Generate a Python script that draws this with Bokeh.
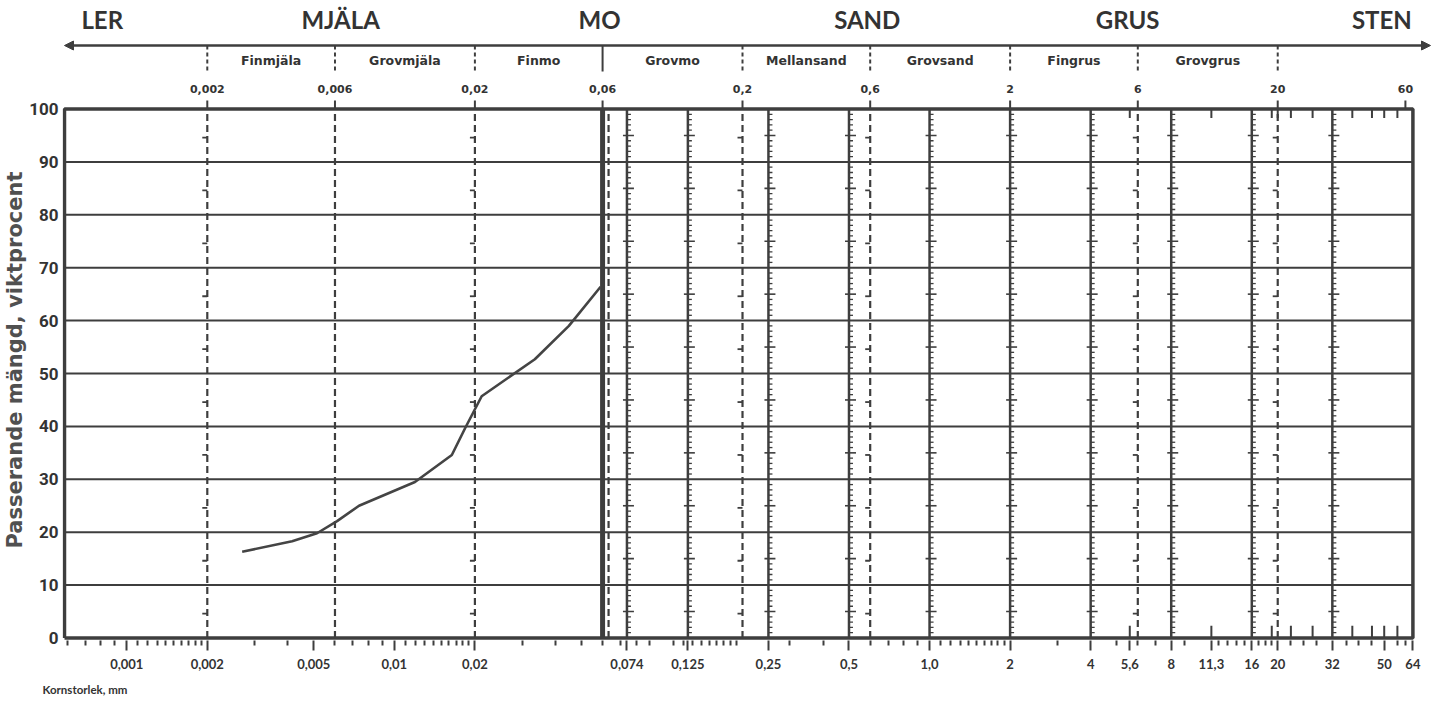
import numpy as np
from bokeh.plotting import figure
from bokeh.models import Range1d, FixedTicker, Arrow, NormalHead, CustomJSTickFormatter, Title
from bokeh.embed import file_html
from bokeh.resources import INLINE
from bokeh.core.properties import value

# ---------------- data ----------------
curve_d = [0.0027, 0.00415, 0.00514, 0.00611, 0.00738, 0.01194, 0.0164, 0.0184, 0.0212, 0.0335, 0.0449, 0.0590]
curve_p = [16.3, 18.3, 19.8, 22.1, 25.0, 29.5, 34.6, 39.7, 45.7, 52.7, 59.0, 66.4]

main_classes = ["LER", "MJÄLA", "MO", "SAND", "GRUS", "STEN"]
main_class_x = [0.00081, 0.0063, 0.0585, 0.585, 5.5, 49.0]

sub_classes = ["Finmjäla", "Grovmjäla", "Finmo", "Grovmo", "Mellansand", "Grovsand", "Fingrus", "Grovgrus"]
boundaries = [0.002, 0.006, 0.02, 0.06, 0.2, 0.6, 2, 6, 20]

top_tick_vals = [0.002, 0.006, 0.02, 0.06, 0.2, 0.6, 2, 6, 20, 60]
top_tick_labels = ["0,002", "0,006", "0,02", "0,06", "0,2", "0,6", "2", "6", "20", "60"]

bottom_ticks = [0.001, 0.002, 0.005, 0.01, 0.02, 0.074, 0.125, 0.25, 0.5, 1.0, 2, 4, 5.6, 8, 11.3, 16, 20, 32, 50, 64]
bottom_labels = ["0,001", "0,002", "0,005", "0,01", "0,02", "0,074", "0,125", "0,25", "0,5", "1,0",
                 "2", "4", "5,6", "8", "11,3", "16", "20", "32", "50", "64"]
bottom_minor = [0.0006, 0.0007, 0.0008, 0.0009,
                0.0011, 0.0012, 0.0013, 0.0014, 0.0015, 0.0016, 0.0017, 0.0018, 0.0019,
                0.003, 0.004, 0.006, 0.007, 0.008, 0.009,
                0.011, 0.012, 0.013, 0.014, 0.015, 0.016, 0.017, 0.018, 0.019,
                0.03, 0.04, 0.05, 0.06, 0.07, 0.08, 0.09,
                0.11, 0.12, 0.13, 0.14, 0.15, 0.16, 0.17, 0.18, 0.19,
                0.3, 0.4, 0.6, 0.7, 0.8, 0.9,
                1.1, 1.2, 1.3, 1.4, 1.5, 1.6, 1.7, 1.8, 1.9,
                3, 5, 6, 7, 9, 12, 13, 14, 15, 17, 18, 19,
                22.4, 25, 28, 36, 40, 45, 56, 60]

sieves = [0.074, 0.125, 0.25, 0.5, 1.0, 2, 4, 8, 16, 32]
dashed_bounds = [0.002, 0.006, 0.02, 0.06, 0.2, 0.6, 6, 20]
marked_bounds = [0.002, 0.02, 0.2, 0.6, 6, 20]
edge_ticks_top = [5.6, 11.3, 19, 20, 22.4, 27, 38, 45, 50, 56]
edge_ticks_bottom = [5.6, 11.3, 19, 22.4, 27, 38, 45, 50, 56]
percent_ticks = list(range(0, 101, 10))
grid_levels = list(range(10, 100, 10))

# ---------------- styling helpers (image pixel geometry) ----------------
PX_DEC = 268.0          # pixels per decade on the grain-size axis
REF_X, REF_PX = 0.002, 205.0
PX_PCT = 5.29           # pixels per percent
Y0_PX = 637.5           # image row of 0 %
W, H = 1432, 706
FRAME_L, FRAME_B = 60, 640
LINE = "#3e3e3e"
TEXT = "#333333"


def at_px(px):
    return REF_X * 10 ** ((px - REF_PX) / PX_DEC)


def at_py(py):
    return (Y0_PX - py) / PX_PCT


def shift(x, px):
    return np.asarray(x, dtype=float) * 10 ** (px / PX_DEC)


x_border = at_px(62)
x_right_edge = 64.0

p = figure(width=W, height=H, x_axis_type="log",
           x_range=Range1d(at_px(FRAME_L), at_px(W)), y_range=Range1d(at_py(FRAME_B), at_py(0)),
           output_backend="svg", toolbar_location=None,
           min_border_left=FRAME_L, min_border_right=0, min_border_top=0, min_border_bottom=H - FRAME_B)
p.grid.visible = False
p.outline_line_color = None

# ---------------- axes ----------------
p.yaxis.ticker = FixedTicker(ticks=percent_ticks)
p.yaxis.axis_line_color = None
p.yaxis.major_tick_line_color = None
p.yaxis.minor_tick_line_color = None
p.yaxis.major_tick_out = 0
p.yaxis.minor_tick_out = 0
p.yaxis.major_label_text_font = "Roboto"
p.yaxis.major_label_text_font_style = "bold"
p.yaxis.major_label_text_font_size = "17px"
p.yaxis.major_label_text_color = TEXT
p.yaxis.major_label_standoff = 4

p.xaxis.ticker = FixedTicker(ticks=bottom_ticks, minor_ticks=bottom_minor)
p.xaxis.formatter = CustomJSTickFormatter(args=dict(t=bottom_ticks, l=bottom_labels), code="""
for (let i = 0; i < t.length; i++) {
  if (Math.abs(Math.log(tick / t[i])) < 1e-6) { return l[i]; }
}
return "";
""")
p.xaxis.axis_line_color = None
p.xaxis.major_tick_out = 10
p.xaxis.major_tick_in = 0
p.xaxis.minor_tick_out = 5
p.xaxis.minor_tick_in = 0
p.xaxis.major_tick_line_width = 2
p.xaxis.minor_tick_line_width = 2
p.xaxis.major_tick_line_color = LINE
p.xaxis.minor_tick_line_color = LINE
p.xaxis.major_label_text_font = "Lato"
p.xaxis.major_label_text_font_style = "bold"
p.xaxis.major_label_text_font_size = "13px"
p.xaxis.major_label_text_color = TEXT
p.xaxis.major_label_standoff = 8

# y title: starts near the frame bottom and reads upward
p.add_layout(Title(text="Passerande mängd, viktprocent", align="left", offset=FRAME_B - 548, standoff=0,
                   text_font="DejaVu Sans", text_font_style="bold", text_font_size="21px",
                   text_color="#505050"), "left")
p.add_layout(Title(text="Kornstorlek, mm", align="left", offset=-20, standoff=18,
                   text_font="Lato", text_font_style="bold", text_font_size="11.5px",
                   text_color=TEXT), "below")

# ---------------- header (class names) ----------------
p.text(x=main_class_x, y=[at_py(19)] * len(main_classes), text=main_classes,
       text_font=value("Lato"), text_font_style="bold", text_font_size="24px",
       text_align="center", text_baseline="middle", text_color=TEXT)

b = np.array(boundaries, dtype=float)
sub_x = np.sqrt(b[:-1] * b[1:])
p.text(x=sub_x, y=[at_py(60)] * len(sub_classes), text=sub_classes,
       text_font=value("DejaVu Sans"), text_font_style="bold", text_font_size="12.5px",
       text_align="center", text_baseline="middle", text_color=TEXT)

p.add_layout(Arrow(start=NormalHead(size=9, line_color=LINE, fill_color=LINE),
                   end=NormalHead(size=9, line_color=LINE, fill_color=LINE),
                   x_start=at_px(62), y_start=at_py(45), x_end=at_px(1430), y_end=at_py(45),
                   line_width=2.5, line_color=LINE))

dash_div = [v for v in boundaries if v != 0.06]
p.segment(x0=dash_div, y0=at_py(45), x1=dash_div, y1=at_py(71),
          line_color=LINE, line_width=2, line_dash="4 3")
p.segment(x0=[0.06], y0=at_py(45), x1=[0.06], y1=at_py(71), line_color=LINE, line_width=2)

p.text(x=top_tick_vals, y=[at_py(88)] * len(top_tick_vals), text=top_tick_labels,
       text_font=value("DejaVu Sans"), text_font_style="bold", text_font_size="11px",
       text_align="center", text_baseline="middle", text_color=TEXT)
p.segment(x0=top_tick_vals, y0=100, x1=top_tick_vals, y1=at_py(100),
          line_color=LINE, line_width=2)

# ---------------- chart body ----------------
p.segment(x0=[x_border] * len(grid_levels), y0=grid_levels,
          x1=[x_right_edge] * len(grid_levels), y1=grid_levels,
          line_color=LINE, line_width=2)

p.segment(x0=sieves, y0=0, x1=sieves, y1=100, line_color=LINE, line_width=2.5)
p.segment(x0=[0.06], y0=0, x1=[0.06], y1=100, line_color=LINE, line_width=5)

ticks_small = [v for v in range(1, 100) if v % 5 != 0]
ticks_mid = [v for v in range(5, 100, 10)]
sx, sy = np.meshgrid(np.asarray(sieves, dtype=float), ticks_small)
p.segment(x0=sx.ravel(), y0=sy.ravel(), x1=shift(sx.ravel(), 4), y1=sy.ravel(),
          line_color=LINE, line_width=1.3)
mx, my = np.meshgrid(np.asarray(sieves, dtype=float), ticks_mid)
p.segment(x0=shift(mx.ravel(), -4), y0=my.ravel(), x1=shift(mx.ravel(), 7), y1=my.ravel(),
          line_color=LINE, line_width=1.6)

dx = [float(shift(v, 6)) if v == 0.06 else v for v in dashed_bounds]
p.segment(x0=dx, y0=0, x1=dx, y1=100, line_color=LINE, line_width=2.2, line_dash="7 4")
kx, ky = np.meshgrid(np.asarray(marked_bounds, dtype=float), ticks_mid)
p.segment(x0=shift(kx.ravel(), -5), y0=ky.ravel() - 0.4, x1=kx.ravel(), y1=ky.ravel() - 0.4,
          line_color=LINE, line_width=1.8)

p.segment(x0=edge_ticks_top, y0=100, x1=edge_ticks_top, y1=98.3, line_color=LINE, line_width=2)
p.segment(x0=edge_ticks_bottom, y0=0, x1=edge_ticks_bottom, y1=2.3, line_color=LINE, line_width=2)

p.line(x=[x_border, x_right_edge, x_right_edge, x_border, x_border], y=[0, 0, 100, 100, 0],
       line_color=LINE, line_width=3.5)

# grading curve
p.line(x=curve_d, y=curve_p, line_color="#444444", line_width=2.6)

open("out.html", "w").write(file_html(p, INLINE))
